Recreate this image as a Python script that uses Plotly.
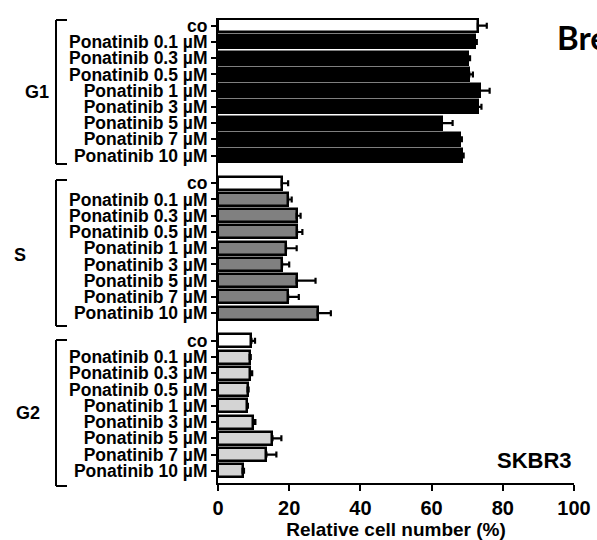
import plotly.graph_objects as go

# ---- data ----
groups = ["G1", "S", "G2"]
conditions = ["co", "Ponatinib 0.1 µM", "Ponatinib 0.3 µM", "Ponatinib 0.5 µM",
              "Ponatinib 1 µM", "Ponatinib 3 µM", "Ponatinib 5 µM",
              "Ponatinib 7 µM", "Ponatinib 10 µM"]
g1_values = [73.0, 72.2, 70.3, 70.6, 73.5, 73.0, 62.9, 68.0, 68.6]
g1_errors = [2.5, 0.5, 0.5, 1.0, 2.8, 1.0, 3.0, 0.5, 0.4]
s_values = [17.9, 19.7, 22.1, 22.2, 19.1, 18.0, 22.1, 19.7, 28.0]
s_errors = [1.8, 1.0, 1.1, 1.5, 3.0, 2.0, 5.3, 3.0, 3.7]
g2_values = [9.4, 8.9, 9.1, 8.3, 8.2, 9.9, 15.3, 13.6, 6.9]
g2_errors = [1.0, 0.3, 0.5, 0.3, 0.2, 0.6, 2.5, 2.8, 0.4]
x_ticks = [0, 20, 40, 60, 80, 100]
x_title = "Relative cell number (%)"
cell_line = "SKBR3"
panel_title = "Breast cancer"

group_values = [g1_values, s_values, g2_values]
group_errors = [g1_errors, s_errors, g2_errors]
group_fill = ["#000000", "#808080", "#d4d4d4"]

# ---- layout geometry ----
W, H = 597, 540
L, R, T, B = 218, 23, 18, 57
GAP = 1.7
Y_TOP, Y_BOT = -0.47, 28.15

FONT = "Arial, 'Liberation Sans', sans-serif"

ys, labels, xs, errs, fills = [], [], [], [], []
for gi, (vals, es) in enumerate(zip(group_values, group_errors)):
    base = gi * (len(conditions) - 1 + GAP)
    for ci, (v, e) in enumerate(zip(vals, es)):
        ys.append(base + ci)
        labels.append(conditions[ci])
        xs.append(v)
        errs.append(e)
        fills.append("#ffffff" if ci == 0 else group_fill[gi])

fig = go.Figure()
fig.add_trace(go.Bar(
    x=xs, y=ys, orientation="h", width=0.8,
    marker=dict(color=fills, line=dict(color="#000000", width=2.5)),
    error_x=dict(type="data", array=errs, arrayminus=[0] * len(errs),
                 symmetric=False, color="#000000", thickness=2.2, width=3),
    showlegend=False, hoverinfo="skip",
))

plot_w = W - L - R
plot_h = H - T - B


def px_x(p):
    return (p - L) / plot_w


def px_y(q):
    return (H - B - q) / plot_h


shapes = []
brackets = [(20, 164), (180, 326), (340, 486)]
for top, bot in brackets:
    for x0, y0, x1, y1 in [(56, top, 56, bot), (56, top, 67, top), (56, bot, 67, bot)]:
        shapes.append(dict(type="line", xref="paper", yref="paper",
                           x0=px_x(x0), y0=px_y(y0), x1=px_x(x1), y1=px_y(y1),
                           line=dict(color="#000000", width=2)))

annotations = []
group_label_pos = [(37, 92), (20, 255), (28, 413)]
for g, (gx, gy) in zip(groups, group_label_pos):
    annotations.append(dict(text=f"<b>{g}</b>", xref="paper", yref="paper",
                            x=px_x(gx), y=px_y(gy), showarrow=False,
                            xanchor="center", yanchor="middle",
                            font=dict(family=FONT, size=18, color="#000000")))
annotations.append(dict(text=f"<b>{cell_line}</b>", xref="paper", yref="paper",
                        x=px_x(534), y=px_y(460), showarrow=False,
                        xanchor="center", yanchor="middle",
                        font=dict(family=FONT, size=22, color="#000000")))
annotations.append(dict(text=f"<b>{panel_title}</b>", xref="paper", yref="paper",
                        x=px_x(555), y=px_y(37), showarrow=False,
                        xanchor="left", yanchor="middle",
                        font=dict(family="Lato, 'Open Sans', sans-serif", size=33, color="#000000")))

fig.update_layout(
    width=W, height=H,
    margin=dict(l=L, r=R, t=T, b=B, pad=0),
    paper_bgcolor="#ffffff", plot_bgcolor="#ffffff",
    bargap=0,
    shapes=shapes, annotations=annotations,
    font=dict(family=FONT, color="#000000"),
)
fig.update_xaxes(
    range=[0, 100], tickvals=x_ticks, ticktext=[f"<b>{t}</b>" for t in x_ticks],
    showgrid=False, zeroline=False, showline=True, linecolor="#000000", linewidth=2,
    ticks="outside", ticklen=6, tickwidth=2, tickcolor="#000000",
    tickfont=dict(family=FONT, size=20, color="#000000"),
    title=dict(text=f"<b>{x_title}</b>", font=dict(family=FONT, size=19, color="#000000"),
               standoff=6),
    automargin=False,
)
fig.update_yaxes(
    range=[Y_BOT, Y_TOP], tickvals=ys, ticktext=[f"<b>{t}</b>" for t in labels],
    showgrid=False, zeroline=False, showline=True, linecolor="#000000", linewidth=2,
    ticks="outside", ticklen=5, tickwidth=2, tickcolor="#000000",
    tickfont=dict(family=FONT, size=17.5, color="#000000"),
    automargin=False,
)

page_js = "document.body.style.margin='0px';document.body.style.overflow='hidden';"

fig.write_html("out.html", config={"displayModeBar": False}, post_script=page_js)
